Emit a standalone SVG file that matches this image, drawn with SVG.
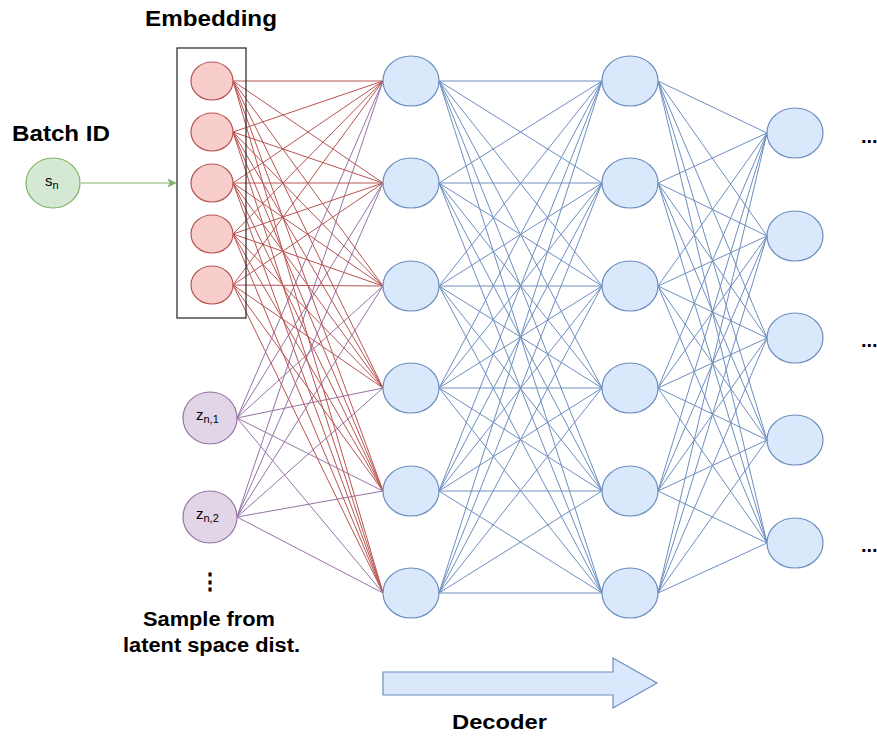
<svg xmlns="http://www.w3.org/2000/svg" width="877" height="736" viewBox="0 0 877 736">
<style>
text{font-family:"Liberation Sans",Arial,sans-serif;fill:#000}
.lbl{font-weight:bold}
.red{stroke:#b85450;stroke-width:1}
.pur{stroke:#9673a6;stroke-width:1}
.blu{stroke:#6c8ebf;stroke-width:1}
.nr{fill:#f8cecc;stroke:#b85450;stroke-width:1.2}
.nb{fill:#dae8fc;stroke:#6c8ebf;stroke-width:1.2}
.ng{fill:#d5e8d4;stroke:#82b366;stroke-width:1.2}
.np{fill:#e1d5e7;stroke:#9673a6;stroke-width:1.2}
.nt{font-size:15px}
.sub{font-size:11px}
</style>
<defs>
<marker id="ga" viewBox="0 0 10 10" refX="9" refY="5" markerWidth="8" markerHeight="8" markerUnits="userSpaceOnUse" orient="auto">
<path d="M0,0 L10,5 L0,10 L3,5 Z" fill="#82b366" stroke="#82b366"/>
</marker>
</defs>
<rect width="877" height="736" fill="#ffffff"/>
<g id="connectors" fill="none">
<g id="purple-links">
<line class="pur" x1="237" y1="418" x2="383" y2="81"/>
<line class="pur" x1="237" y1="418" x2="383" y2="183"/>
<line class="pur" x1="237" y1="418" x2="383" y2="286"/>
<line class="pur" x1="237" y1="418" x2="383" y2="388"/>
<line class="pur" x1="237" y1="418" x2="383" y2="491"/>
<line class="pur" x1="237" y1="418" x2="383" y2="593"/>
<line class="pur" x1="237" y1="517" x2="383" y2="81"/>
<line class="pur" x1="237" y1="517" x2="383" y2="183"/>
<line class="pur" x1="237" y1="517" x2="383" y2="286"/>
<line class="pur" x1="237" y1="517" x2="383" y2="388"/>
<line class="pur" x1="237" y1="517" x2="383" y2="491"/>
<line class="pur" x1="237" y1="517" x2="383" y2="593"/>
</g>
<g id="red-links">
<line class="red" x1="233" y1="81" x2="383" y2="81"/>
<line class="red" x1="233" y1="81" x2="383" y2="183"/>
<line class="red" x1="233" y1="81" x2="383" y2="286"/>
<line class="red" x1="233" y1="81" x2="383" y2="388"/>
<line class="red" x1="233" y1="81" x2="383" y2="491"/>
<line class="red" x1="233" y1="81" x2="383" y2="593"/>
<line class="red" x1="233" y1="132" x2="383" y2="81"/>
<line class="red" x1="233" y1="132" x2="383" y2="183"/>
<line class="red" x1="233" y1="132" x2="383" y2="286"/>
<line class="red" x1="233" y1="132" x2="383" y2="388"/>
<line class="red" x1="233" y1="132" x2="383" y2="491"/>
<line class="red" x1="233" y1="132" x2="383" y2="593"/>
<line class="red" x1="233" y1="183" x2="383" y2="81"/>
<line class="red" x1="233" y1="183" x2="383" y2="183"/>
<line class="red" x1="233" y1="183" x2="383" y2="286"/>
<line class="red" x1="233" y1="183" x2="383" y2="388"/>
<line class="red" x1="233" y1="183" x2="383" y2="491"/>
<line class="red" x1="233" y1="183" x2="383" y2="593"/>
<line class="red" x1="233" y1="234" x2="383" y2="81"/>
<line class="red" x1="233" y1="234" x2="383" y2="183"/>
<line class="red" x1="233" y1="234" x2="383" y2="286"/>
<line class="red" x1="233" y1="234" x2="383" y2="388"/>
<line class="red" x1="233" y1="234" x2="383" y2="491"/>
<line class="red" x1="233" y1="234" x2="383" y2="593"/>
<line class="red" x1="233" y1="285" x2="383" y2="81"/>
<line class="red" x1="233" y1="285" x2="383" y2="183"/>
<line class="red" x1="233" y1="285" x2="383" y2="286"/>
<line class="red" x1="233" y1="285" x2="383" y2="388"/>
<line class="red" x1="233" y1="285" x2="383" y2="491"/>
<line class="red" x1="233" y1="285" x2="383" y2="593"/>
</g>
<g id="blue-links-1">
<line class="blu" x1="439" y1="81" x2="602" y2="81"/>
<line class="blu" x1="439" y1="81" x2="602" y2="183"/>
<line class="blu" x1="439" y1="81" x2="602" y2="286"/>
<line class="blu" x1="439" y1="81" x2="602" y2="388"/>
<line class="blu" x1="439" y1="81" x2="602" y2="491"/>
<line class="blu" x1="439" y1="81" x2="602" y2="593"/>
<line class="blu" x1="439" y1="183" x2="602" y2="81"/>
<line class="blu" x1="439" y1="183" x2="602" y2="183"/>
<line class="blu" x1="439" y1="183" x2="602" y2="286"/>
<line class="blu" x1="439" y1="183" x2="602" y2="388"/>
<line class="blu" x1="439" y1="183" x2="602" y2="491"/>
<line class="blu" x1="439" y1="183" x2="602" y2="593"/>
<line class="blu" x1="439" y1="286" x2="602" y2="81"/>
<line class="blu" x1="439" y1="286" x2="602" y2="183"/>
<line class="blu" x1="439" y1="286" x2="602" y2="286"/>
<line class="blu" x1="439" y1="286" x2="602" y2="388"/>
<line class="blu" x1="439" y1="286" x2="602" y2="491"/>
<line class="blu" x1="439" y1="286" x2="602" y2="593"/>
<line class="blu" x1="439" y1="388" x2="602" y2="81"/>
<line class="blu" x1="439" y1="388" x2="602" y2="183"/>
<line class="blu" x1="439" y1="388" x2="602" y2="286"/>
<line class="blu" x1="439" y1="388" x2="602" y2="388"/>
<line class="blu" x1="439" y1="388" x2="602" y2="491"/>
<line class="blu" x1="439" y1="388" x2="602" y2="593"/>
<line class="blu" x1="439" y1="491" x2="602" y2="81"/>
<line class="blu" x1="439" y1="491" x2="602" y2="183"/>
<line class="blu" x1="439" y1="491" x2="602" y2="286"/>
<line class="blu" x1="439" y1="491" x2="602" y2="388"/>
<line class="blu" x1="439" y1="491" x2="602" y2="491"/>
<line class="blu" x1="439" y1="491" x2="602" y2="593"/>
<line class="blu" x1="439" y1="593" x2="602" y2="81"/>
<line class="blu" x1="439" y1="593" x2="602" y2="183"/>
<line class="blu" x1="439" y1="593" x2="602" y2="286"/>
<line class="blu" x1="439" y1="593" x2="602" y2="388"/>
<line class="blu" x1="439" y1="593" x2="602" y2="491"/>
<line class="blu" x1="439" y1="593" x2="602" y2="593"/>
</g>
<g id="blue-links-2">
<line class="blu" x1="658" y1="81" x2="767" y2="133"/>
<line class="blu" x1="658" y1="81" x2="767" y2="236"/>
<line class="blu" x1="658" y1="81" x2="767" y2="338"/>
<line class="blu" x1="658" y1="81" x2="767" y2="440"/>
<line class="blu" x1="658" y1="81" x2="767" y2="543"/>
<line class="blu" x1="658" y1="183" x2="767" y2="133"/>
<line class="blu" x1="658" y1="183" x2="767" y2="236"/>
<line class="blu" x1="658" y1="183" x2="767" y2="338"/>
<line class="blu" x1="658" y1="183" x2="767" y2="440"/>
<line class="blu" x1="658" y1="183" x2="767" y2="543"/>
<line class="blu" x1="658" y1="286" x2="767" y2="133"/>
<line class="blu" x1="658" y1="286" x2="767" y2="236"/>
<line class="blu" x1="658" y1="286" x2="767" y2="338"/>
<line class="blu" x1="658" y1="286" x2="767" y2="440"/>
<line class="blu" x1="658" y1="286" x2="767" y2="543"/>
<line class="blu" x1="658" y1="388" x2="767" y2="133"/>
<line class="blu" x1="658" y1="388" x2="767" y2="236"/>
<line class="blu" x1="658" y1="388" x2="767" y2="338"/>
<line class="blu" x1="658" y1="388" x2="767" y2="440"/>
<line class="blu" x1="658" y1="388" x2="767" y2="543"/>
<line class="blu" x1="658" y1="491" x2="767" y2="133"/>
<line class="blu" x1="658" y1="491" x2="767" y2="236"/>
<line class="blu" x1="658" y1="491" x2="767" y2="338"/>
<line class="blu" x1="658" y1="491" x2="767" y2="440"/>
<line class="blu" x1="658" y1="491" x2="767" y2="543"/>
<line class="blu" x1="658" y1="593" x2="767" y2="133"/>
<line class="blu" x1="658" y1="593" x2="767" y2="236"/>
<line class="blu" x1="658" y1="593" x2="767" y2="338"/>
<line class="blu" x1="658" y1="593" x2="767" y2="440"/>
<line class="blu" x1="658" y1="593" x2="767" y2="543"/>
</g>
<line id="batch-arrow" x1="81" y1="183" x2="175" y2="183" stroke="#82b366" stroke-width="1.2" marker-end="url(#ga)"/>
</g>
<g id="embedding">
<rect x="177" y="48" width="69" height="270" fill="none" stroke="#222" stroke-width="1.2"/>
<text class="lbl" x="145" y="26" font-size="22" textLength="132" lengthAdjust="spacingAndGlyphs">Embedding</text>
<g id="emb1"><ellipse class="nr" cx="212" cy="81" rx="21" ry="19"/></g>
<g id="emb2"><ellipse class="nr" cx="212" cy="132" rx="21" ry="19"/></g>
<g id="emb3"><ellipse class="nr" cx="212" cy="183" rx="21" ry="19"/></g>
<g id="emb4"><ellipse class="nr" cx="212" cy="234" rx="21" ry="19"/></g>
<g id="emb5"><ellipse class="nr" cx="212" cy="285" rx="21" ry="19"/></g>
</g>
<g id="batch">
<text class="lbl" x="12" y="141" font-size="22" textLength="98" lengthAdjust="spacingAndGlyphs">Batch ID</text>
<ellipse class="ng" cx="53" cy="183" rx="27" ry="25"/>
<text class="nt" x="45" y="186" fill="#333">s<tspan class="sub" dy="3">n</tspan></text>
</g>
<g id="z1">
<ellipse class="np" cx="210" cy="418" rx="27" ry="26"/>
<text class="nt" x="196" y="420" fill="#333">z<tspan class="sub" dy="3">n,1</tspan></text>
</g>
<g id="z2">
<ellipse class="np" cx="210" cy="517" rx="27" ry="26"/>
<text class="nt" x="196" y="519" fill="#333">z<tspan class="sub" dy="3">n,2</tspan></text>
</g>
<g id="latent-label">
<text class="lbl" x="210" y="589" font-size="22" text-anchor="middle" font-family="DejaVu Sans">⋮</text>
<text class="lbl" x="143" y="626" font-size="20" textLength="132" lengthAdjust="spacingAndGlyphs">Sample from</text>
<text class="lbl" x="123" y="652" font-size="20" textLength="177" lengthAdjust="spacingAndGlyphs">latent space dist.</text>
</g>
<g id="layer1">
<ellipse class="nb" cx="411" cy="81" rx="28" ry="25"/>
<ellipse class="nb" cx="411" cy="183" rx="28" ry="25"/>
<ellipse class="nb" cx="411" cy="286" rx="28" ry="25"/>
<ellipse class="nb" cx="411" cy="388" rx="28" ry="25"/>
<ellipse class="nb" cx="411" cy="491" rx="28" ry="25"/>
<ellipse class="nb" cx="411" cy="593" rx="28" ry="25"/>
</g>
<g id="layer2">
<ellipse class="nb" cx="630" cy="81" rx="28" ry="25"/>
<ellipse class="nb" cx="630" cy="183" rx="28" ry="25"/>
<ellipse class="nb" cx="630" cy="286" rx="28" ry="25"/>
<ellipse class="nb" cx="630" cy="388" rx="28" ry="25"/>
<ellipse class="nb" cx="630" cy="491" rx="28" ry="25"/>
<ellipse class="nb" cx="630" cy="593" rx="28" ry="25"/>
</g>
<g id="layer3">
<ellipse class="nb" cx="795" cy="133" rx="28" ry="25"/>
<ellipse class="nb" cx="795" cy="236" rx="28" ry="25"/>
<ellipse class="nb" cx="795" cy="338" rx="28" ry="25"/>
<ellipse class="nb" cx="795" cy="440" rx="28" ry="25"/>
<ellipse class="nb" cx="795" cy="543" rx="28" ry="25"/>
</g>
<g id="ellipsis-right">
<text class="lbl" x="861" y="143" font-size="20">...</text>
<text class="lbl" x="861" y="347" font-size="20">...</text>
<text class="lbl" x="861" y="552" font-size="20">...</text>
</g>
<g id="decoder">
<polygon points="383,672 613,672 613,658 657,683 613,708 613,695 383,695" fill="#dae8fc" stroke="#6c8ebf" stroke-width="1.2"/>
<text class="lbl" x="452" y="729" font-size="20" textLength="95" lengthAdjust="spacingAndGlyphs">Decoder</text>
</g>
</svg>
